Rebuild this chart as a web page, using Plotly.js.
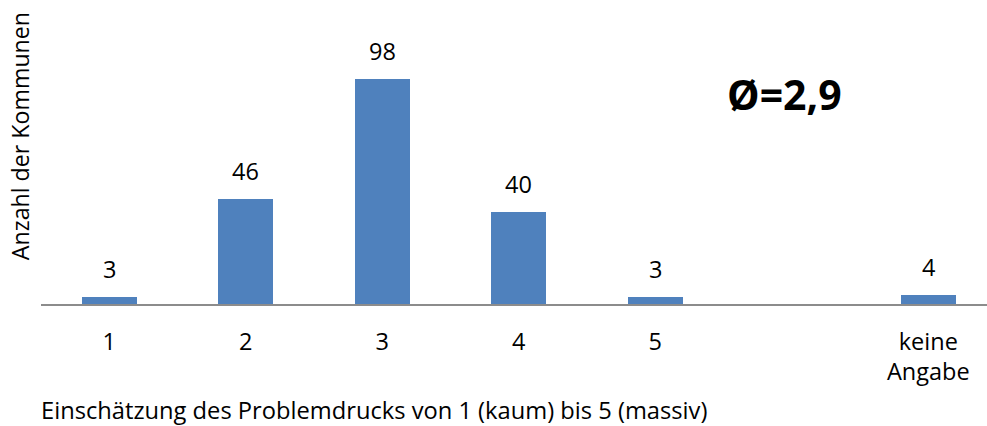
<!DOCTYPE html>
<html>
<head>
<meta charset="utf-8">
<script src="https://cdn.plot.ly/plotly-3.0.1.min.js"></script>
<style>html,body{margin:0;padding:0;background:#fff;}#chart{width:987px;height:426px;}</style>
</head>
<body>
<div id="chart"></div>
<script>
const categories = ['1', '2', '3', '4', '5', '', 'keine<br>Angabe'];
const values = [3, 46, 98, 40, 3, null, 4];
const xTitle = 'Einschätzung des Problemdrucks von 1 (kaum) bis 5 (massiv)';
const yTitle = 'Anzahl der Kommunen';
const meanLabel = 'Ø=2,9';

const xs = categories.map((c, i) => i);
const FONT = '"Open Sans", "DejaVu Sans", sans-serif';

const trace = {
  type: 'bar',
  x: xs,
  y: values,
  width: 0.4,
  marker: {color: '#4F81BD', line: {width: 0}},
  hoverinfo: 'none'
};

const annotations = [];
values.forEach((v, i) => {
  if (v === null) return;
  annotations.push({
    x: i, y: v, xref: 'x', yref: 'y',
    text: String(v), showarrow: false,
    yanchor: 'middle', yshift: 28,
    font: {family: FONT, size: 23.5, color: '#000'}
  });
});
annotations.push({
  xref: 'paper', yref: 'paper', x: 0.786, y: 0.715,
  text: '<b>' + meanLabel + '</b>', showarrow: false,
  xanchor: 'center', yanchor: 'middle',
  font: {family: FONT, size: 41, color: '#000'}
});
annotations.push({
  xref: 'paper', yref: 'paper', x: 0, y: 0,
  text: xTitle, showarrow: false,
  xanchor: 'left', yanchor: 'middle', yshift: -106, xshift: -2,
  font: {family: FONT, size: 23.7, color: '#000'}
});
annotations.push({
  xref: 'paper', yref: 'paper', x: 0, y: 0.571,
  text: yTitle, showarrow: false, textangle: -90,
  xanchor: 'center', yanchor: 'middle', xshift: -21,
  font: {family: FONT, size: 23.2, color: '#000'}
});

const layout = {
  width: 987, height: 426,
  margin: {l: 41, r: 0, t: 10, b: 122},
  paper_bgcolor: '#fff', plot_bgcolor: '#fff',
  showlegend: false,
  bargap: 0,
  xaxis: {
    range: [-0.5, 6.43],
    tickmode: 'array', tickvals: xs, ticktext: categories,
    ticks: 'outside', ticklen: 16, tickcolor: 'rgba(0,0,0,0)',
    tickfont: {family: FONT, size: 23.5, color: '#000'},
    showline: true, linecolor: '#8c8c8c', linewidth: 1.5,
    showgrid: false, zeroline: false, fixedrange: true
  },
  yaxis: {
    range: [0, 128.3],
    showticklabels: false, ticks: '', showgrid: false, zeroline: false, showline: false,
    fixedrange: true
  },
  annotations: annotations
};

Plotly.newPlot('chart', [trace], layout, {displayModeBar: false, staticPlot: true});
</script>
</body>
</html>
